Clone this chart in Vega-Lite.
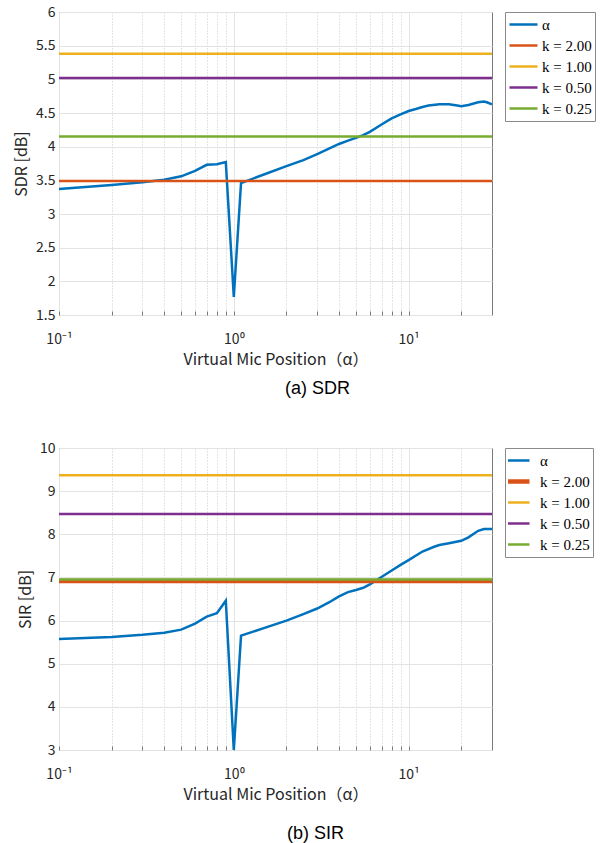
{
  "$schema": "https://vega.github.io/schema/vega-lite/v6.json",
  "background": "white",
  "padding": {"top": 4, "left": 13, "right": 0, "bottom": 0},
  "spacing": 41,
  "config": {
    "view": {"stroke": "#7a7a7a", "strokeWidth": 1},
    "axis": {
      "labelFont": "Noto Sans CJK JP",
      "titleFont": "Noto Sans CJK JP",
      "labelColor": "#262626",
      "titleColor": "#262626",
      "labelFontSize": 14,
      "titleFontSize": 16,
      "titleFontWeight": "normal",
      "domain": false,
      "tickColor": "#7a7a7a",
      "gridColor": "#e3e3e3",
      "gridWidth": 1,
      "labelOverlap": false,
      "labelFlush": false
    },
    "legend": {
      "title": null,
      "orient": "right",
      "offset": 13,
      "symbolType": "stroke",
      "symbolSize": 784,
      "symbolStrokeWidth": 2.5,
      "labelFont": "Liberation Serif",
      "labelFontSize": 15,
      "labelColor": "#000000",
      "strokeColor": "#8a8a8a",
      "fillColor": "white",
      "padding": 3,
      "clipHeight": 19,
      "labelOffset": 3
    },
    "title": {"font": "Liberation Sans", "fontSize": 18, "fontWeight": "normal", "color": "#000000"}
  },
  "datasets": {
    "sdr_curve": [
      {"x": 0.1, "y": 3.37, "series": "α"}, {"x": 0.2, "y": 3.43, "series": "α"},
      {"x": 0.3, "y": 3.47, "series": "α"}, {"x": 0.4, "y": 3.51, "series": "α"},
      {"x": 0.5, "y": 3.56, "series": "α"}, {"x": 0.6, "y": 3.64, "series": "α"},
      {"x": 0.7, "y": 3.73, "series": "α"}, {"x": 0.8, "y": 3.74, "series": "α"},
      {"x": 0.9, "y": 3.77, "series": "α"}, {"x": 1.0, "y": 1.77, "series": "α"},
      {"x": 1.1, "y": 3.46, "series": "α"}, {"x": 1.5, "y": 3.59, "series": "α"},
      {"x": 2, "y": 3.71, "series": "α"}, {"x": 2.5, "y": 3.80, "series": "α"},
      {"x": 3, "y": 3.89, "series": "α"}, {"x": 3.5, "y": 3.97, "series": "α"},
      {"x": 4, "y": 4.04, "series": "α"}, {"x": 4.5, "y": 4.09, "series": "α"},
      {"x": 5, "y": 4.13, "series": "α"}, {"x": 5.5, "y": 4.17, "series": "α"},
      {"x": 6, "y": 4.22, "series": "α"}, {"x": 7, "y": 4.33, "series": "α"},
      {"x": 8, "y": 4.42, "series": "α"}, {"x": 9, "y": 4.48, "series": "α"},
      {"x": 10, "y": 4.53, "series": "α"}, {"x": 11, "y": 4.56, "series": "α"},
      {"x": 12, "y": 4.59, "series": "α"}, {"x": 13, "y": 4.61, "series": "α"},
      {"x": 15, "y": 4.63, "series": "α"}, {"x": 17, "y": 4.63, "series": "α"},
      {"x": 19, "y": 4.61, "series": "α"}, {"x": 20, "y": 4.60, "series": "α"},
      {"x": 22, "y": 4.62, "series": "α"}, {"x": 25, "y": 4.66, "series": "α"},
      {"x": 27, "y": 4.67, "series": "α"}, {"x": 28, "y": 4.66, "series": "α"},
      {"x": 30, "y": 4.63, "series": "α"}
    ],
    "sdr_lines": [
      {"y": 3.49, "series": "k = 2.00"},
      {"y": 5.38, "series": "k = 1.00"},
      {"y": 5.02, "series": "k = 0.50"},
      {"y": 4.15, "series": "k = 0.25"}
    ],
    "sir_curve": [
      {"x": 0.1, "y": 5.57, "series": "α"}, {"x": 0.2, "y": 5.62, "series": "α"},
      {"x": 0.3, "y": 5.67, "series": "α"}, {"x": 0.4, "y": 5.72, "series": "α"},
      {"x": 0.5, "y": 5.79, "series": "α"}, {"x": 0.6, "y": 5.93, "series": "α"},
      {"x": 0.7, "y": 6.09, "series": "α"}, {"x": 0.8, "y": 6.17, "series": "α"},
      {"x": 0.9, "y": 6.46, "series": "α"}, {"x": 1.0, "y": 3.0, "series": "α"},
      {"x": 1.1, "y": 5.65, "series": "α"}, {"x": 1.5, "y": 5.83, "series": "α"},
      {"x": 2, "y": 6.0, "series": "α"}, {"x": 2.5, "y": 6.15, "series": "α"},
      {"x": 3, "y": 6.28, "series": "α"}, {"x": 3.5, "y": 6.42, "series": "α"},
      {"x": 4, "y": 6.56, "series": "α"}, {"x": 4.5, "y": 6.66, "series": "α"},
      {"x": 5, "y": 6.71, "series": "α"}, {"x": 5.5, "y": 6.76, "series": "α"},
      {"x": 6, "y": 6.84, "series": "α"}, {"x": 7, "y": 7.01, "series": "α"},
      {"x": 8, "y": 7.16, "series": "α"}, {"x": 9, "y": 7.29, "series": "α"},
      {"x": 10, "y": 7.40, "series": "α"}, {"x": 12, "y": 7.60, "series": "α"},
      {"x": 14, "y": 7.71, "series": "α"}, {"x": 15, "y": 7.75, "series": "α"},
      {"x": 17, "y": 7.79, "series": "α"}, {"x": 20, "y": 7.85, "series": "α"},
      {"x": 22, "y": 7.93, "series": "α"}, {"x": 25, "y": 8.08, "series": "α"},
      {"x": 27, "y": 8.12, "series": "α"}, {"x": 30, "y": 8.12, "series": "α"}
    ],
    "sir_lines": [
      {"y": 6.92, "series": "k = 2.00"},
      {"y": 9.37, "series": "k = 1.00"},
      {"y": 8.47, "series": "k = 0.50"},
      {"y": 6.95, "series": "k = 0.25"}
    ]
  },
  "resolve": {"scale": {"color": "independent"}, "legend": {"color": "independent"}},
  "vconcat": [
    {
      "width": 433,
      "height": 303,
      "title": {"text": "(a) SDR", "orient": "bottom", "anchor": "middle", "frame": "group", "dx": 42, "offset": 13},
      "layer": [
        {
          "data": {"name": "sdr_curve"},
          "mark": {"type": "line", "strokeWidth": 2.5, "clip": true},
          "encoding": {
            "x": {
              "field": "x", "type": "quantitative",
              "scale": {"type": "log", "domain": [0.1, 30], "nice": false},
              "axis": {
                "title": "Virtual Mic Position（α）",
                "values": [0.1, 0.2, 0.3, 0.4, 0.5, 0.6, 0.7, 0.8, 0.9, 1, 2, 3, 4, 5, 6, 7, 8, 9, 10, 20],
                "tickCount": 40,
                "labelExpr": "datum.value == 0.1 ? '10⁻¹' : datum.value == 1 ? '10⁰' : datum.value == 10 ? '10¹' : ''",
                "labelOverlap": false,
                "labelPadding": 21,
                "tickSize": -4,
                "titlePadding": 5,
                "gridDash": {"condition": {"test": "datum.value == 0.1 || datum.value == 1 || datum.value == 10", "value": []}, "value": [1, 2]},
                "gridColor": {"condition": {"test": "datum.value == 0.1 || datum.value == 1 || datum.value == 10", "value": "#e3e3e3"}, "value": "#c8c8c8"}
              }
            },
            "y": {
              "field": "y", "type": "quantitative",
              "scale": {"domain": [1.5, 6], "nice": false, "zero": false},
              "axis": {"title": "SDR [dB]", "values": [1.5, 2, 2.5, 3, 3.5, 4, 4.5, 5, 5.5, 6], "tickCount": 20, "format": "~r", "labelOverlap": false, "ticks": false, "labelPadding": 4, "titlePadding": 6}
            },
            "color": {
              "field": "series", "type": "nominal",
              "scale": {"domain": ["α", "k = 2.00", "k = 1.00", "k = 0.50", "k = 0.25"], "range": ["#0072BD", "#D95319", "#EDB120", "#7E2F8E", "#77AC30"]}
            }
          }
        },
        {
          "data": {"name": "sdr_lines"},
          "mark": {"type": "rule", "strokeWidth": 2.5},
          "encoding": {
            "y": {"field": "y", "type": "quantitative"},
            "color": {"field": "series", "type": "nominal"}
          }
        }
      ]
    },
    {
      "width": 433,
      "height": 302,
      "title": {"text": "(b) SIR", "orient": "bottom", "anchor": "middle", "frame": "group", "dx": 40, "offset": 23},
      "layer": [
        {
          "data": {"name": "sir_curve"},
          "mark": {"type": "line", "strokeWidth": 2.5, "clip": true},
          "encoding": {
            "x": {
              "field": "x", "type": "quantitative",
              "scale": {"type": "log", "domain": [0.1, 30], "nice": false},
              "axis": {
                "title": "Virtual Mic Position（α）",
                "values": [0.1, 0.2, 0.3, 0.4, 0.5, 0.6, 0.7, 0.8, 0.9, 1, 2, 3, 4, 5, 6, 7, 8, 9, 10, 20],
                "tickCount": 40,
                "labelExpr": "datum.value == 0.1 ? '10⁻¹' : datum.value == 1 ? '10⁰' : datum.value == 10 ? '10¹' : ''",
                "labelOverlap": false,
                "labelPadding": 21,
                "tickSize": -4,
                "titlePadding": 5,
                "gridDash": {"condition": {"test": "datum.value == 0.1 || datum.value == 1 || datum.value == 10", "value": []}, "value": [1, 2]},
                "gridColor": {"condition": {"test": "datum.value == 0.1 || datum.value == 1 || datum.value == 10", "value": "#e3e3e3"}, "value": "#c8c8c8"}
              }
            },
            "y": {
              "field": "y", "type": "quantitative",
              "scale": {"domain": [3, 10], "nice": false, "zero": false},
              "axis": {"title": "SIR [dB]", "values": [3, 4, 5, 6, 7, 8, 9, 10], "tickCount": 20, "format": "~r", "labelOverlap": false, "ticks": false, "labelPadding": 4, "titlePadding": 6}
            },
            "color": {
              "field": "series", "type": "nominal",
              "scale": {"domain": ["α", "k = 2.00", "k = 1.00", "k = 0.50", "k = 0.25"], "range": ["#0072BD", "#D95319", "#EDB120", "#7E2F8E", "#77AC30"]},
              "legend": {
                "encode": {
                  "symbols": {"update": {"strokeWidth": {"signal": "datum.label == 'k = 2.00' ? 4.5 : 2.5"}}},
                  "labels": {"update": {"dx": {"value": 14}}}
                }
              }
            }
          }
        },
        {
          "data": {"name": "sir_lines"},
          "mark": {"type": "rule"},
          "encoding": {
            "y": {"field": "y", "type": "quantitative"},
            "color": {"field": "series", "type": "nominal"},
            "strokeWidth": {"condition": {"test": "datum.series == 'k = 2.00'", "value": 4.5}, "value": 2.5}
          }
        }
      ]
    }
  ]
}
